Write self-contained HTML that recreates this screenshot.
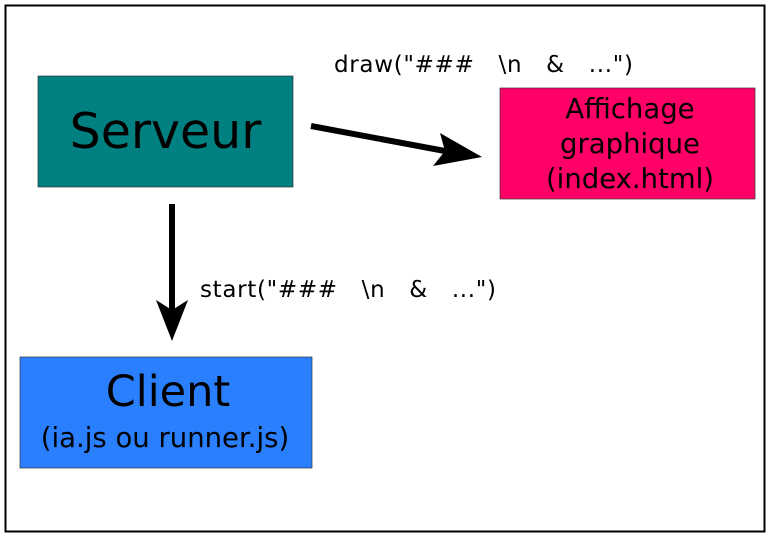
<!DOCTYPE html>
<html><head><meta charset="utf-8"><style>html,body{margin:0;padding:0;background:#fff}svg{display:block}</style></head>
<body>
<svg width="771" height="546" viewBox="0 0 771 546" xmlns="http://www.w3.org/2000/svg" font-family="DejaVu Sans, Liberation Sans, sans-serif">
<rect x="0" y="0" width="771" height="546" fill="#fff"/>
<rect x="5.5" y="5.5" width="759" height="526" fill="none" stroke="#000" stroke-width="2"/>
<rect x="38" y="76" width="255" height="111" fill="#008080" stroke="#333" stroke-width="0.7"/>
<text x="165.5" y="148" font-size="49" text-anchor="middle" fill="#000">Serveur</text>
<rect x="500" y="88" width="255" height="111" fill="#ff0066" stroke="#333" stroke-width="0.7"/>
<text x="630" y="118" font-size="27.5" text-anchor="middle" fill="#000">Affichage</text>
<text x="630" y="153" font-size="27.5" text-anchor="middle" fill="#000">graphique</text>
<text x="630" y="188" font-size="27.5" text-anchor="middle" fill="#000">(index.html)</text>
<rect x="20" y="357" width="292" height="111" fill="#2a7fff" stroke="#333" stroke-width="0.7"/>
<text x="168" y="406" font-size="43" text-anchor="middle" fill="#000">Client</text>
<text x="165" y="447" font-size="27.5" text-anchor="middle" fill="#000">(ia.js ou runner.js)</text>
<line x1="311" y1="126" x2="445" y2="151" stroke="#000" stroke-width="6"/>
<polygon points="482,157 433,166 445,151 440,133" fill="#000"/>
<line x1="172" y1="204" x2="172" y2="312" stroke="#000" stroke-width="6"/>
<polygon points="172,341 156,300 172,310 188,300" fill="#000"/>
<text x="334" y="72" font-size="23" fill="#000" xml:space="preserve" textLength="299" lengthAdjust="spacing">draw("###   \n   &amp;   ...")</text>
<text x="200" y="297" font-size="23" fill="#000" xml:space="preserve" textLength="296" lengthAdjust="spacing">start("###   \n   &amp;   ...")</text>
</svg>
</body></html>
